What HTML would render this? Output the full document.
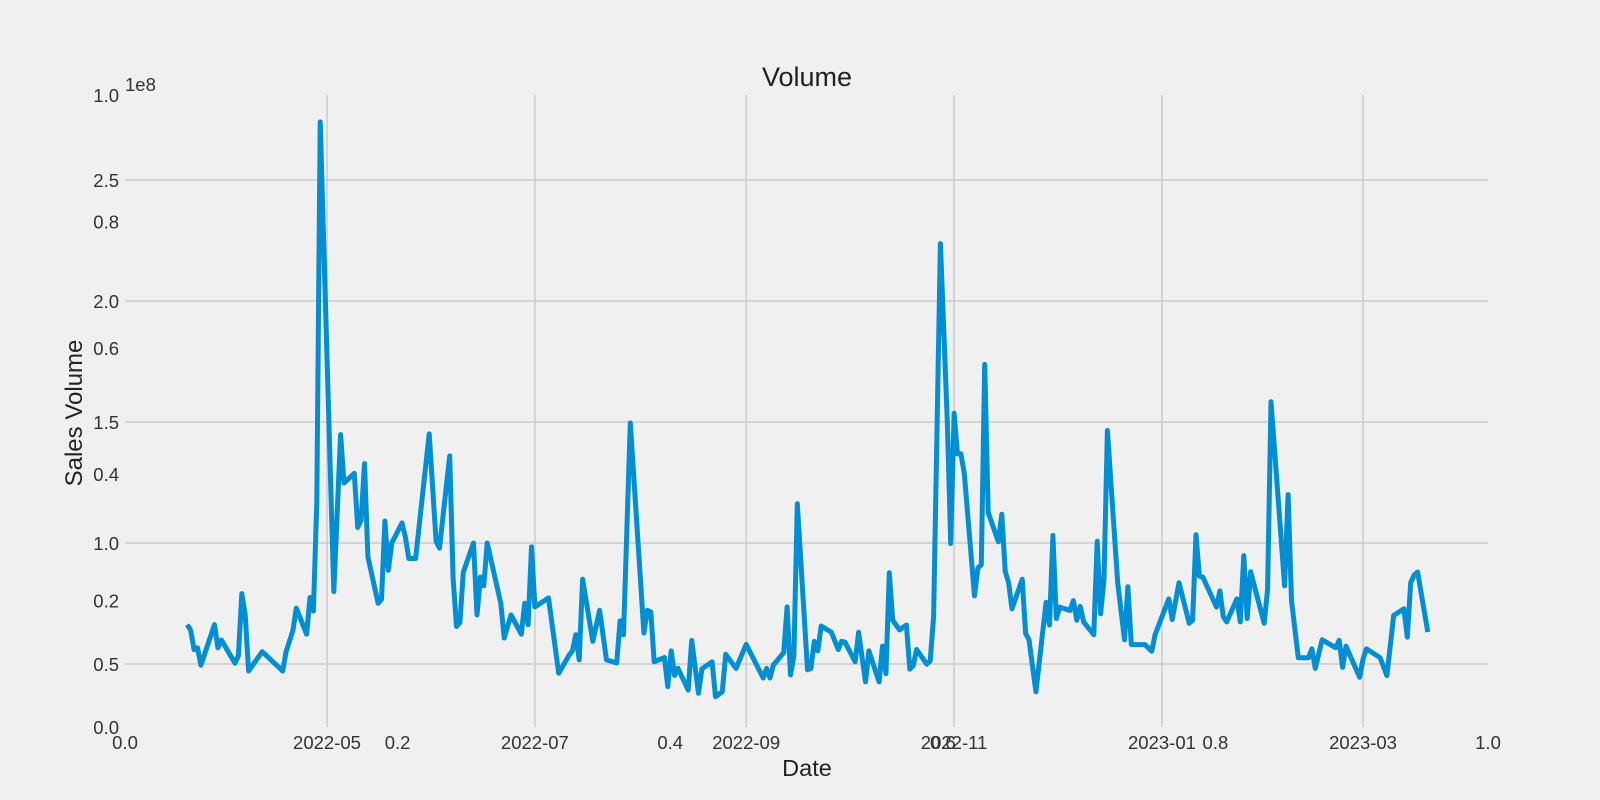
<!DOCTYPE html>
<html><head><meta charset="utf-8">
<style>
html,body{margin:0;padding:0;background:#f0f0f0;}
svg{display:block;font-family:"Liberation Sans",sans-serif;}
</style></head>
<body>
<svg id="chart" width="1600" height="800" viewBox="0 0 1600 800" xmlns="http://www.w3.org/2000/svg">
<rect x="0" y="0" width="1600" height="800" fill="#f0f0f0"/>
<g id="grid"></g>
<g id="series"></g>
<g id="ticks"></g>
<text x="807" y="86" font-size="27" text-anchor="middle" fill="#222">Volume</text>
<text x="807" y="776" font-size="23.5" text-anchor="middle" fill="#222">Date</text>
<text transform="translate(82,413) rotate(-90)" font-size="24" text-anchor="middle" fill="#222">Sales Volume</text>
<text x="125" y="91" font-size="18.5" fill="#333">1e8</text>
</svg>
<script>
// days since 2022-05-01
const dayOffsets = [-41,-40,-39,-38,-37,-33,-32,-31,-27,-26,-25,-24,-23,-19,-13,-12,-10,-9,-6,-5,-4,-3,-2,2,4,5,8,9,10,11,12,15,16,17,18,19,22,23,24,26,30,32,33,36,37,38,39,40,43,44,45,46,47,51,52,54,57,58,59,
60,61,65,68,71,72,73,74,75,78,80,82,85,86,87,89,93,94,95,96,99,100,101,102,103,106,107,109,110,113,114,116,117,120,123,128,129,130,131,134,135,136,137,138,141,142,143,144,145,148,150,151,152,155,156,158,159,162,163,164,165,166,168,170,
171,172,173,176,177,178,180,182,183,184,185,186,187,190,191,192,193,194,197,198,199,200,201,204,205,206,208,211,212,213,214,215,218,219,220,221,222,225,226,227,228,229,232,234,235,236,240,242,243,247,248,250,253,254,255,256,257,261,262,263,264,267,268,269,270,271,275,276,277,281,282,283,285,288,289,290,292,296,297,298,299,303,304,305,309,311,313,316,317,318,319,320,323];
// volume in units of 1e8
const volumes = [0.663,0.639,0.559,0.567,0.495,0.663,0.567,0.599,0.503,0.535,0.791,0.703,0.471,0.551,0.471,0.551,0.639,0.731,0.623,0.775,0.719,1.168,2.740,0.799,1.448,1.248,1.288,1.064,1.095,1.328,0.943,0.751,0.767,1.091,0.887,1.000,1.083,1.024,0.936,0.936,1.451,1.007,0.979,1.360,0.855,0.655,0.671,0.879,1.000,0.703,0.859,0.823,1.000,0.751,0.607,0.703,0.623,0.751,0.663,
0.984,0.736,0.773,0.462,0.536,0.554,0.621,0.517,0.850,0.594,0.722,0.517,0.504,0.678,0.621,1.496,0.628,0.722,0.715,0.509,0.527,0.406,0.554,0.453,0.482,0.392,0.597,0.379,0.480,0.509,0.365,0.386,0.540,0.482,0.581,0.442,0.482,0.442,0.496,0.547,0.736,0.455,0.533,1.162,0.476,0.482,0.594,0.554,0.657,0.631,0.560,0.594,0.590,0.509,0.631,0.426,0.554,0.426,0.574,0.460,0.877,0.681,0.641,0.661,
0.479,0.493,0.560,0.499,0.513,0.695,2.237,1.503,0.998,1.536,1.368,1.368,1.287,0.782,0.897,0.910,1.738,1.126,1.005,1.119,0.883,0.836,0.728,0.850,0.627,0.600,0.385,0.755,0.661,1.031,0.688,0.735,0.721,0.762,0.681,0.738,0.674,0.621,1.007,0.708,0.850,1.465,0.836,0.600,0.819,0.580,0.580,0.553,0.621,0.769,0.684,0.836,0.668,0.681,1.034,0.863,0.859,0.735,0.802,0.695,0.674,0.769,0.674,0.948,0.688,0.881,0.668,0.809,1.584,0.823,1.200,0.762,0.526,0.526,0.563,0.482,0.600,0.567,0.598,0.486,0.574,0.445,0.519,0.563,0.526,0.452,0.701,0.728,0.611,0.836,0.868,0.880,0.632];
const dateTickOffsets = [0,61,123,184,245,304];
const dateTickLabels = ["2022-05","2022-07","2022-09","2022-11","2023-01","2023-03"];
const volTicks = [0.5,1.0,1.5,2.0,2.5];
const volTickLabels = ["0.5","1.0","1.5","2.0","2.5"];
const unitTicks = [0,0.2,0.4,0.6,0.8,1.0];
const unitTickLabels = ["0.0","0.2","0.4","0.6","0.8","1.0"];

const L=125,R=1488,T=95,B=727;
const xDate = d => 327 + d*3.408;
const yVol = v => 785 - v*242;
const xUnit = u => L + u*(R-L);
const yUnit = u => B - u*(B-T);
const NS="http://www.w3.org/2000/svg";
function mk(tag, attrs, parent){const e=document.createElementNS(NS,tag);for(const k in attrs)e.setAttribute(k,attrs[k]);parent.appendChild(e);return e;}
const grid=document.getElementById('grid'), series=document.getElementById('series'), ticks=document.getElementById('ticks');

volTicks.forEach((v,i)=>{
  const l=mk('line',{x1:L,x2:R,y1:yVol(v),y2:yVol(v),stroke:'#cbcbcb','stroke-width':1.5},grid);
  
  
  const t=mk('text',{x:119,y:yVol(v)+7,'font-size':18.5,'text-anchor':'end',fill:'#333'},ticks);
  t.textContent=volTickLabels[i];
  
  
});
dateTickOffsets.forEach((d,i)=>{
  const l=mk('line',{x1:xDate(d),x2:xDate(d),y1:T,y2:B,stroke:'#cbcbcb','stroke-width':1.5},grid);
  
  
  const t=mk('text',{x:xDate(d),y:749,'font-size':18.5,'text-anchor':'middle',fill:'#333'},ticks);
  t.textContent=dateTickLabels[i];
  
  
});
unitTicks.forEach((u,i)=>{
  const t=mk('text',{x:119,y:yUnit(u)+7,'font-size':18.5,'text-anchor':'end',fill:'#333'},ticks);
  t.textContent=unitTickLabels[i];
  
  
  const t2=mk('text',{x:xUnit(u),y:749,'font-size':18.5,'text-anchor':'middle',fill:'#333'},ticks);
  t2.textContent=unitTickLabels[i];
  
  
});
const pts=dayOffsets.map((d,i)=>xDate(d).toFixed(1)+','+yVol(volumes[i]).toFixed(1)).join(' ');
const line=mk('polyline',{points:pts,fill:'none',stroke:'#008fd5','stroke-width':5,'stroke-linejoin':'round','stroke-linecap':'butt'},series);


</script>
</body></html>
